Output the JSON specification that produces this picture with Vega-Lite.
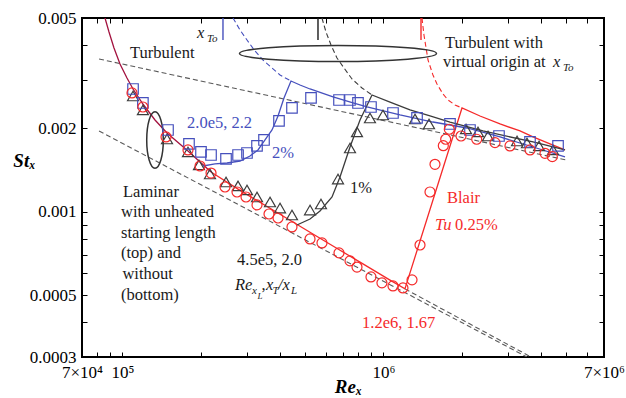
{
"$schema": "https://vega.github.io/schema/vega-lite/v6.json",
"width": 522, "height": 339,
"autosize": {"type": "none"},
"padding": {"left": 82, "top": 18, "right": 22, "bottom": 41},
"background": "white",
"config": {"view": {"stroke": "#000", "strokeWidth": 2}, "font": "Liberation Serif"},
"datasets": {
"points": [
{"s":"black","re":109800,"st":0.002618},{"s":"black","re":119800,"st":0.002331},{"s":"black","re":148200,"st":0.001832},{"s":"black","re":178300,"st":0.001645},{"s":"black","re":196500,"st":0.001477},{"s":"black","re":216500,"st":0.00137},{"s":"black","re":249400,"st":0.001282},{"s":"black","re":277300,"st":0.001241},{"s":"black","re":300100,"st":0.0012},{"s":"black","re":327800,"st":0.001132},{"s":"black","re":367700,"st":0.001086},{"s":"black","re":401600,"st":0.001033},{"s":"black","re":446300,"st":0.000975},{"s":"black","re":523300,"st":0.001016},{"s":"black","re":576400,"st":0.001068},{"s":"black","re":669800,"st":0.001314},{"s":"black","re":744600,"st":0.0017},{"s":"black","re":792000,"st":0.001942},{"s":"black","re":888000,"st":0.002181},{"s":"black","re":996000,"st":0.002236},{"s":"black","re":1321000,"st":0.002163},{"s":"black","re":1495000,"st":0.002075},{"s":"black","re":2072000,"st":0.001991},{"s":"black","re":2303000,"st":0.001942},{"s":"black","re":2516000,"st":0.001878},{"s":"black","re":3250000,"st":0.001802},{"s":"black","re":3548000,"st":0.001772},{"s":"black","re":3946000,"st":0.001729},{"s":"black","re":4463000,"st":0.001673},
{"s":"blue","re":109800,"st":0.002774},{"s":"blue","re":119800,"st":0.00247},{"s":"blue","re":149500,"st":0.001974},{"s":"blue","re":179900,"st":0.001758},{"s":"blue","re":200000,"st":0.001645},{"s":"blue","re":218500,"st":0.001604},{"s":"blue","re":249400,"st":0.001552},{"s":"blue","re":277300,"st":0.001604},{"s":"blue","re":300100,"st":0.001631},{"s":"blue","re":327800,"st":0.001729},{"s":"blue","re":348700,"st":0.001817},{"s":"blue","re":398000,"st":0.002128},{"s":"blue","re":446300,"st":0.00237},{"s":"blue","re":527900,"st":0.002575},{"s":"blue","re":675700,"st":0.002532},{"s":"blue","re":744600,"st":0.002532},{"s":"blue","re":799000,"st":0.00247},{"s":"blue","re":896000,"st":0.002389},{"s":"blue","re":1088000,"st":0.002273},{"s":"blue","re":1345000,"st":0.002181},{"s":"blue","re":1799000,"st":0.002075},{"s":"blue","re":2146000,"st":0.001974},{"s":"blue","re":2772000,"st":0.001878},{"s":"blue","re":3644000,"st":0.001787},{"s":"blue","re":4666000,"st":0.001729},
{"s":"red","re":108800,"st":0.002684},{"s":"red","re":119800,"st":0.002389},{"s":"red","re":146900,"st":0.001863},{"s":"red","re":178300,"st":0.001673},{"s":"red","re":198300,"st":0.001464},{"s":"red","re":218500,"st":0.001381},{"s":"red","re":247200,"st":0.00123},{"s":"red","re":274800,"st":0.00118},{"s":"red","re":297500,"st":0.001132},{"s":"red","re":327800,"st":0.00106},{"s":"red","re":364400,"st":0.000983},{"s":"red","re":394600,"st":0.000951},{"s":"red","re":446300,"st":0.000883},{"s":"red","re":523300,"st":0.000799},{"s":"red","re":581500,"st":0.000773},{"s":"red","re":675700,"st":0.000712},{"s":"red","re":744600,"st":0.000666},{"s":"red","re":792000,"st":0.000633},{"s":"red","re":896000,"st":0.000583},{"s":"red","re":987000,"st":0.000555},{"s":"red","re":1088000,"st":0.000541},{"s":"red","re":1188000,"st":0.000532},{"s":"red","re":1287000,"st":0.000569},{"s":"red","re":1381000,"st":0.00076},{"s":"red","re":1508000,"st":0.00118},{"s":"red","re":1576000,"st":0.001485},{"s":"red","re":1696000,"st":0.001733},{"s":"red","re":1732000,"st":0.001828},{"s":"red","re":1788000,"st":0.001986},{"s":"red","re":1983000,"st":0.001878},{"s":"red","re":2277000,"st":0.001828},{"s":"red","re":2676000,"st":0.001777},{"s":"red","re":3054000,"st":0.001729},{"s":"red","re":3644000,"st":0.001673},{"s":"red","re":4159000,"st":0.001627},{"s":"red","re":4437000,"st":0.001582}
],
"solid": [
{"c":"lam","s":"crimson","re":85750,"st":0.005},{"c":"lam","s":"crimson","re":88830,"st":0.004452},{"c":"lam","s":"crimson","re":92830,"st":0.003898},{"c":"lam","s":"crimson","re":97880,"st":0.003413},{"c":"lam","s":"crimson","re":104100,"st":0.003039},{"c":"lam","s":"crimson","re":109800,"st":0.002774},{"c":"lam","s":"crimson","re":119800,"st":0.002449},{"c":"lam","s":"crimson","re":133300,"st":0.002145},{"c":"lam","s":"crimson","re":148200,"st":0.001926},{"c":"lam","s":"crimson","re":178300,"st":0.001659},{"c":"lam","s":"crimson","re":218500,"st":0.001393},
{"c":"red","s":"red","re":218500,"st":0.001393},{"c":"red","s":"red","re":282200,"st":0.001196},{"c":"red","s":"red","re":367700,"st":0.001031},{"c":"red","s":"red","re":479000,"st":0.000888},{"c":"red","s":"red","re":624300,"st":0.000765},{"c":"red","s":"red","re":813400,"st":0.000659},{"c":"red","s":"red","re":1060000,"st":0.000568},{"c":"red","s":"red","re":1209000,"st":0.000528},{"c":"red","s":"red","re":2000000,"st":0.00237},{"c":"red","s":"red","re":2344000,"st":0.002217},{"c":"red","s":"red","re":2797000,"st":0.002075},{"c":"red","s":"red","re":3337000,"st":0.001958},{"c":"red","s":"red","re":3742000,"st":0.001863},{"c":"red","s":"red","re":4347000,"st":0.001758},{"c":"red","s":"red","re":4962000,"st":0.001673},
{"c":"blue","s":"blue","re":203600,"st":0.001464},{"c":"blue","s":"blue","re":226200,"st":0.001489},{"c":"blue","s":"blue","re":251600,"st":0.001501},{"c":"blue","s":"blue","re":282200,"st":0.001526},{"c":"blue","s":"blue","re":308200,"st":0.001591},{"c":"blue","s":"blue","re":330700,"st":0.001673},{"c":"blue","s":"blue","re":351800,"st":0.001817},{"c":"blue","s":"blue","re":374200,"st":0.001974},{"c":"blue","s":"blue","re":394600,"st":0.002217},{"c":"blue","s":"blue","re":415900,"st":0.002575},{"c":"blue","s":"blue","re":442400,"st":0.002964},{"c":"blue","s":"blue","re":479000,"st":0.002867},{"c":"blue","s":"blue","re":523300,"st":0.002774},{"c":"blue","s":"blue","re":641100,"st":0.002596},{"c":"blue","s":"blue","re":764500,"st":0.00247},{"c":"blue","s":"blue","re":865000,"st":0.002389},{"c":"blue","s":"blue","re":1157000,"st":0.002236},{"c":"blue","s":"blue","re":1548000,"st":0.002109},{"c":"blue","s":"blue","re":2090000,"st":0.002007},{"c":"blue","s":"blue","re":2797000,"st":0.001863},{"c":"blue","s":"blue","re":3742000,"st":0.001714},{"c":"blue","s":"blue","re":4962000,"st":0.001578},
{"c":"black","s":"black","re":466400,"st":0.000897},{"c":"black","s":"black","re":523300,"st":0.000943},{"c":"black","s":"black","re":571400,"st":0.001008},{"c":"black","s":"black","re":635400,"st":0.001132},{"c":"black","s":"black","re":681700,"st":0.001337},{"c":"black","s":"black","re":744600,"st":0.001714},{"c":"black","s":"black","re":813400,"st":0.002145},{"c":"black","s":"black","re":904000,"st":0.002639},{"c":"black","s":"black","re":1060000,"st":0.002489},{"c":"black","s":"black","re":1264000,"st":0.002331},{"c":"black","s":"black","re":1508000,"st":0.002217},{"c":"black","s":"black","re":1799000,"st":0.002109},{"c":"black","s":"black","re":2407000,"st":0.001958},{"c":"black","s":"black","re":3742000,"st":0.001787},{"c":"black","s":"black","re":4962000,"st":0.001673}
],
"dashed": [
{"c":"gU","s":"gray","re":81340,"st":0.003558},{"c":"gU","s":"gray","re":5006000,"st":0.001539},
{"c":"gL","s":"gray","re":81340,"st":0.001958},{"c":"gL","s":"gray","re":3548000,"st":0.0003},
{"c":"gU2","s":"gray","re":1209000,"st":0.000528},{"c":"gU2","s":"gray","re":3677000,"st":0.0003},
{"c":"bD","s":"blue","re":265200,"st":0.005},{"c":"bD","s":"blue","re":282200,"st":0.004526},{"c":"bD","s":"blue","re":300100,"st":0.004166},{"c":"bD","s":"blue","re":322000,"st":0.003802},{"c":"bD","s":"blue","re":345600,"st":0.003528},{"c":"bD","s":"blue","re":374200,"st":0.003302},{"c":"bD","s":"blue","re":401600,"st":0.003115},{"c":"bD","s":"blue","re":442400,"st":0.002964},
{"c":"kD","s":"black","re":581500,"st":0.005},{"c":"kD","s":"black","re":602400,"st":0.004452},{"c":"kD","s":"black","re":629800,"st":0.003996},{"c":"kD","s":"black","re":663900,"st":0.003587},{"c":"kD","s":"black","re":706300,"st":0.003302},{"c":"kD","s":"black","re":757800,"st":0.003014},{"c":"kD","s":"black","re":827800,"st":0.002797},{"c":"kD","s":"black","re":904000,"st":0.002639},
{"c":"rD","s":"red","re":1405000,"st":0.005},{"c":"rD","s":"red","re":1430000,"st":0.004342},{"c":"rD","s":"red","re":1482000,"st":0.003528},{"c":"rD","s":"red","re":1548000,"st":0.003115},{"c":"rD","s":"red","re":1604000,"st":0.002891},{"c":"rD","s":"red","re":1691000,"st":0.002661},{"c":"rD","s":"red","re":1768000,"st":0.002532},{"c":"rD","s":"red","re":1881000,"st":0.002429},{"c":"rD","s":"red","re":2000000,"st":0.00237}
],
"rules": [
{"s":"blue","re":242800,"st":0.005,"st2":0.004166},
{"s":"ink","re":561400,"st":0.005,"st2":0.004166},
{"s":"red","re":1393000,"st":0.005,"st2":0.004166}
],
"ellipses": [
{"e":"wide","re":669800,"st":0.003724},
{"e":"tall","re":133300,"st":0.001817}
],
"labels": [
{"k":"n","t":"Turbulent","re":106900,"st":0.003587,"s":"ink"},
{"k":"n","t":"Turbulent with","re":1721000,"st":0.003888,"s":"ink"},
{"k":"n","t":"virtual origin at","re":1691000,"st":0.003343,"s":"ink"},
{"k":"n","t":"2.0e5, 2.2","re":176800,"st":0.002007,"s":"blue"},
{"k":"n","t":"2%","re":374200,"st":0.001565,"s":"blue"},
{"k":"n","t":"1%","re":744600,"st":0.001168,"s":"ink"},
{"k":"n","t":"Laminar","re":100500,"st":0.001135,"s":"ink"},
{"k":"n","t":"with unheated","re":98750,"st":0.000961,"s":"ink"},
{"k":"n","t":"starting length","re":98750,"st":0.000808,"s":"ink"},
{"k":"n","t":"(top) and","re":98750,"st":0.000681,"s":"ink"},
{"k":"n","t":"without","re":100000,"st":0.000573,"s":"ink"},
{"k":"n","t":"(bottom)","re":98750,"st":0.000482,"s":"ink"},
{"k":"n","t":"4.5e5, 2.0","re":274800,"st":0.000644,"s":"ink"},
{"k":"n","t":"Blair","re":1752000,"st":0.001075,"s":"red"},
{"k":"n","t":"0.25%","re":1881000,"st":0.000861,"s":"red"},
{"k":"n","t":"1.2e6, 1.67","re":827800,"st":0.000381,"s":"red"},
{"k":"n","t":",","re":341100,"st":0.000523,"s":"ink"},
{"k":"i","t":"x","re":193100,"st":0.004252,"s":"ink"},
{"k":"i","t":"x","re":4463000,"st":0.003343,"s":"ink"},
{"k":"i","t":"Tu","re":1576000,"st":0.000861,"s":"red"},
{"k":"i","t":"Re","re":270000,"st":0.000523,"s":"ink"},
{"k":"i","t":"x","re":354900,"st":0.000523,"s":"ink"},
{"k":"i","t":"/x","re":394600,"st":0.000523,"s":"ink"},
{"k":"s","t":"To","re":210900,"st":0.0041,"s":"ink"},
{"k":"s","t":"To","re":4875000,"st":0.00322,"s":"ink"},
{"k":"s","t":"x","re":313700,"st":0.000506,"s":"ink"},
{"k":"s","t":"T","re":375800,"st":0.000506,"s":"ink"},
{"k":"s","t":"L","re":442400,"st":0.000506,"s":"ink"},
{"k":"ss","t":"L","re":329300,"st":0.000486,"s":"ink"}
]
},
"layer": [
{
"data": {"name": "dashed"},
"mark": {"type": "line", "strokeDash": [5, 3], "strokeWidth": 1.1, "clip": true},
"encoding": {
"x": {"field": "re", "type": "quantitative", "scale": {"type": "log", "domain": [70000, 7000000], "nice": false},
 "axis": {"orient": "top", "values": [70000,80000,90000,100000,200000,300000,400000,500000,600000,700000,800000,900000,1000000,2000000,3000000,4000000,5000000,6000000,7000000], "labels": false, "domain": false, "grid": false, "tickColor": "#000", "tickSize": -5, "title": null}},
"y": {"field": "st", "type": "quantitative", "scale": {"type": "log", "domain": [0.0003, 0.005], "nice": false},
 "axis": {"orient": "right", "values": [0.0003,0.0004,0.0005,0.0006,0.0007,0.0008,0.0009,0.001,0.002,0.003,0.004,0.005], "labels": false, "domain": false, "grid": false, "tickColor": "#000", "tickSize": -5, "title": null}},
"detail": {"field": "c"},
"color": {"field": "s", "type": "nominal", "scale": {"domain": ["red","blue","black","crimson","gray","ink"], "range": ["#f52a2a","#4650bd","#3c3c3c","#a3123f","#5a5a5a","#1a1a1a"]}, "legend": null}
}
},
{
"data": {"name": "solid"},
"mark": {"type": "line", "strokeWidth": 1.3, "clip": true},
"encoding": {
"x": {"field": "re", "type": "quantitative", "scale": {"type": "log", "domain": [70000, 7000000], "nice": false},
 "axis": {"orient": "bottom", "values": [70000,80000,90000,100000,200000,300000,400000,500000,600000,700000,800000,900000,1000000,2000000,3000000,4000000,5000000,6000000,7000000],
  "labelExpr": "abs(datum.value-70000)<1 ? '7×10⁴' : abs(datum.value-100000)<1 ? '10⁵' : abs(datum.value-1000000)<1 ? '10⁶' : abs(datum.value-7000000)<1 ? '7×10⁶' : ''",
  "labelOverlap": false, "labelFlush": false, "labelFont": "Liberation Serif", "labelFontSize": 17, "labelColor": "#000", "labelPadding": 12,
  "domain": false, "grid": false, "tickColor": "#000", "tickSize": -5,
  "title": "Reₓ", "titleFont": "Liberation Serif", "titleFontSize": 19, "titleFontStyle": "italic", "titleFontWeight": "bold", "titleColor": "#000", "titleX": 266, "titleY": 29, "titleBaseline": "middle", "titleAlign": "center"}},
"y": {"field": "st", "type": "quantitative", "scale": {"type": "log", "domain": [0.0003, 0.005], "nice": false},
 "axis": {"orient": "left", "values": [0.0003,0.0004,0.0005,0.0006,0.0007,0.0008,0.0009,0.001,0.002,0.003,0.004,0.005],
  "labelExpr": "abs(datum.value-0.005)<1e-7 ? '0.005' : abs(datum.value-0.002)<1e-7 ? '0.002' : abs(datum.value-0.001)<1e-7 ? '0.001' : abs(datum.value-0.0005)<1e-7 ? '0.0005' : abs(datum.value-0.0003)<1e-7 ? '0.0003' : ''",
  "labelOverlap": false, "labelFlush": false, "labelFont": "Liberation Serif", "labelFontSize": 17, "labelColor": "#000", "labelPadding": 11,
  "domain": false, "grid": false, "tickColor": "#000", "tickSize": -5,
  "title": "Stₓ", "titleFont": "Liberation Serif", "titleFontSize": 19, "titleFontStyle": "italic", "titleFontWeight": "bold", "titleColor": "#000", "titleAngle": 0, "titleX": -58, "titleY": 142, "titleBaseline": "middle", "titleAlign": "center"}},
"detail": {"field": "c"},
"color": {"field": "s", "type": "nominal", "scale": {"domain": ["red","blue","black","crimson","gray","ink"], "range": ["#f52a2a","#4650bd","#3c3c3c","#a3123f","#5a5a5a","#1a1a1a"]}, "legend": null}
}
},
{
"data": {"name": "rules"},
"mark": {"type": "rule", "strokeWidth": 1.4},
"encoding": {
"x": {"field": "re", "type": "quantitative", "axis": null},
"y": {"field": "st", "type": "quantitative", "axis": null},
"y2": {"field": "st2"},
"color": {"field": "s", "type": "nominal", "scale": {"domain": ["red","blue","black","crimson","gray","ink"], "range": ["#f52a2a","#4650bd","#3c3c3c","#a3123f","#5a5a5a","#1a1a1a"]}, "legend": null}
}
},
{
"data": {"name": "ellipses"},
"transform": [{"filter": "datum.e == 'wide'"}],
"mark": {"type": "point", "shape": "M -1 0 C -1 -0.0447 -0.5523 -0.081 0 -0.081 C 0.5523 -0.081 1 -0.0447 1 0 C 1 0.0447 0.5523 0.081 0 0.081 C -0.5523 0.081 -1 0.0447 -1 0 Z", "size": 38809, "filled": false, "stroke": "#333", "strokeWidth": 1.5, "opacity": 1},
"encoding": {
"x": {"field": "re", "type": "quantitative", "axis": null},
"y": {"field": "st", "type": "quantitative", "axis": null}
}
},
{
"data": {"name": "ellipses"},
"transform": [{"filter": "datum.e == 'tall'"}],
"mark": {"type": "point", "shape": "M 0 -1 C 0.162 -1 0.293 -0.5523 0.293 0 C 0.293 0.5523 0.162 1 0 1 C -0.162 1 -0.293 0.5523 -0.293 0 C -0.293 -0.5523 -0.162 -1 0 -1 Z", "size": 3204, "filled": false, "stroke": "#333", "strokeWidth": 1.5, "opacity": 1},
"encoding": {
"x": {"field": "re", "type": "quantitative", "axis": null},
"y": {"field": "st", "type": "quantitative", "axis": null}
}
},
{
"data": {"name": "points"},
"mark": {"type": "point", "filled": false, "strokeWidth": 1.2, "opacity": 1},
"encoding": {
"x": {"field": "re", "type": "quantitative", "axis": null},
"y": {"field": "st", "type": "quantitative", "axis": null},
"shape": {"field": "s", "type": "nominal", "scale": {"domain": ["black","blue","red"], "range": ["triangle-up","square","circle"]}, "legend": null},
"size": {"field": "s", "type": "nominal", "scale": {"domain": ["black","blue","red"], "range": [121, 100, 81]}, "legend": null},
"color": {"field": "s", "type": "nominal", "scale": {"domain": ["red","blue","black","crimson","gray","ink"], "range": ["#f52a2a","#4650bd","#3c3c3c","#a3123f","#5a5a5a","#1a1a1a"]}, "legend": null}
}
},
{
"data": {"name": "labels"},
"transform": [{"filter": "datum.k == 'n'"}],
"mark": {"type": "text", "align": "left", "baseline": "alphabetic", "font": "Liberation Serif", "fontSize": 16.5},
"encoding": {
"x": {"field": "re", "type": "quantitative", "axis": null},
"y": {"field": "st", "type": "quantitative", "axis": null},
"text": {"field": "t"},
"color": {"field": "s", "type": "nominal", "scale": {"domain": ["red","blue","black","crimson","gray","ink"], "range": ["#f52a2a","#4650bd","#3c3c3c","#a3123f","#5a5a5a","#1a1a1a"]}, "legend": null}
}
},
{
"data": {"name": "labels"},
"transform": [{"filter": "datum.k == 'i'"}],
"mark": {"type": "text", "align": "left", "baseline": "alphabetic", "font": "Liberation Serif", "fontSize": 16.5, "fontStyle": "italic"},
"encoding": {
"x": {"field": "re", "type": "quantitative", "axis": null},
"y": {"field": "st", "type": "quantitative", "axis": null},
"text": {"field": "t"},
"color": {"field": "s", "type": "nominal", "scale": {"domain": ["red","blue","black","crimson","gray","ink"], "range": ["#f52a2a","#4650bd","#3c3c3c","#a3123f","#5a5a5a","#1a1a1a"]}, "legend": null}
}
},
{
"data": {"name": "labels"},
"transform": [{"filter": "datum.k == 's'"}],
"mark": {"type": "text", "align": "left", "baseline": "alphabetic", "font": "Liberation Serif", "fontSize": 11, "fontStyle": "italic"},
"encoding": {
"x": {"field": "re", "type": "quantitative", "axis": null},
"y": {"field": "st", "type": "quantitative", "axis": null},
"text": {"field": "t"},
"color": {"field": "s", "type": "nominal", "scale": {"domain": ["red","blue","black","crimson","gray","ink"], "range": ["#f52a2a","#4650bd","#3c3c3c","#a3123f","#5a5a5a","#1a1a1a"]}, "legend": null}
}
},
{
"data": {"name": "labels"},
"transform": [{"filter": "datum.k == 'ss'"}],
"mark": {"type": "text", "align": "left", "baseline": "alphabetic", "font": "Liberation Serif", "fontSize": 9, "fontStyle": "italic"},
"encoding": {
"x": {"field": "re", "type": "quantitative", "axis": null},
"y": {"field": "st", "type": "quantitative", "axis": null},
"text": {"field": "t"},
"color": {"field": "s", "type": "nominal", "scale": {"domain": ["red","blue","black","crimson","gray","ink"], "range": ["#f52a2a","#4650bd","#3c3c3c","#a3123f","#5a5a5a","#1a1a1a"]}, "legend": null}
}
}
],
"resolve": {"axis": {"x": "independent", "y": "independent"}}
}
